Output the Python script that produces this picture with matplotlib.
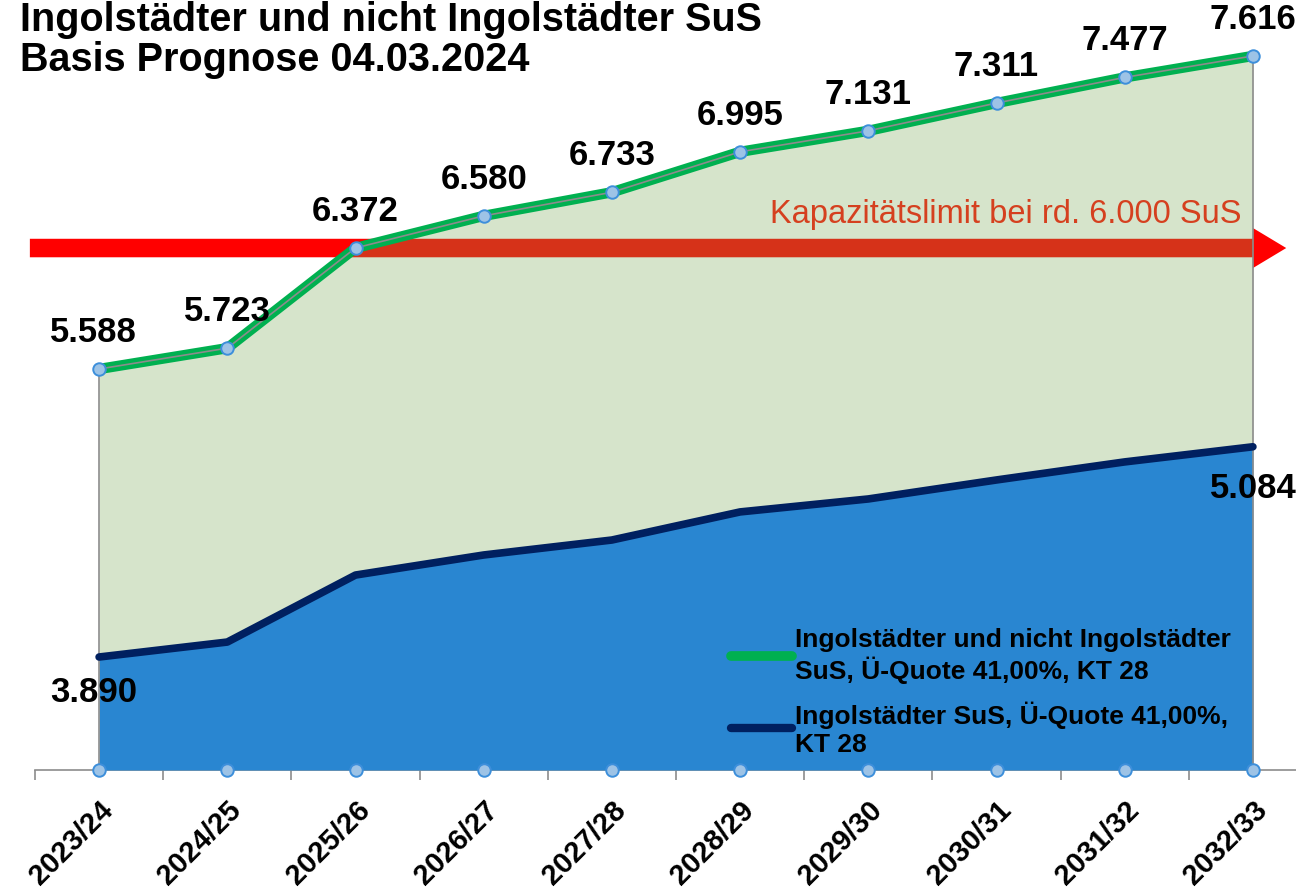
import matplotlib
matplotlib.use("Agg")
import matplotlib.pyplot as plt
from matplotlib.patches import FancyArrow
from matplotlib.lines import Line2D
import numpy as np

# Schuljahre
jahre = ["2023/24", "2024/25", "2025/26", "2026/27", "2027/28",
         "2028/29", "2029/30", "2030/31", "2031/32", "2032/33"]
# Ingolstaedter und nicht Ingolstaedter SuS
gesamt = [5588, 5723, 6372, 6580, 6733, 6995, 7131, 7311, 7477, 7616]
# Ingolstaedter SuS (Lage aus dem Bild gelesen)
ingolstadt = [3722, 3819, 4253, 4383, 4480, 4662, 4746, 4869, 4986, 5084]
# Beschriftungen der blauen Reihe wie im Original
ingolstadt_labels = {0: "3.890", 9: "5.084"}

titel = "Ingolstädter und nicht Ingolstädter SuS\nBasis Prognose 04.03.2024"
limit_text = "Kapazitätslimit bei rd. 6.000 SuS"
leg_gesamt = "Ingolstädter und nicht Ingolstädter\nSuS, Ü-Quote 41,00%, KT 28"
leg_ingol = "Ingolstädter SuS, Ü-Quote 41,00%,\nKT 28"

plt.rcParams['font.family'] = ['Liberation Sans', 'DejaVu Sans']

def de(v):
    return f"{v:,}".replace(",", ".")

x = np.arange(len(jahre))
fig = plt.figure(figsize=(12.96, 8.95), dpi=100)
ax = fig.add_axes([35/1296, 124/895, 1282/1296, 771/895])
ax.set_xlim(-0.5, 9.5)
ax.set_ylim(2990, 7985)

# Pfeil fuer das Kapazitaetslimit (unter der halbtransparenten Flaeche)
pfeil = FancyArrow(-0.004, 0.677, 0.98, 0, width=0.024, head_width=0.052,
                   head_length=0.026, length_includes_head=True,
                   color="#FF0000", lw=0, transform=ax.transAxes, zorder=1,
                   clip_on=False)
ax.add_patch(pfeil)

ax.fill_between(x, 2990, gesamt, color="#78A753", alpha=0.3, lw=0, zorder=2)
ax.fill_between(x, 2990, ingolstadt, color="#2986D1", lw=0, zorder=3)
ax.vlines([x[0], x[-1]], 2990, [gesamt[0], gesamt[-1]], color="#8C8C8C", lw=1.2, zorder=4)

ax.plot(x, gesamt, color="#00B050", lw=7.5, solid_capstyle="butt", zorder=5)
ax.plot(x, gesamt, color="#8C8C8C", lw=1.2, zorder=6)
ax.plot(x, ingolstadt, color="#002060", lw=5.5, solid_capstyle="round", zorder=5)
ax.plot(x, gesamt, ls="none", marker="o", ms=9, mfc="#9DC3E6", mec="#3D8FDB", mew=1.4, zorder=7)
ax.plot(x, [2990] * len(x), ls="none", marker="o", ms=9, mfc="#9DC3E6", mec="#3D8FDB",
        mew=1.4, zorder=7, clip_on=False)

for i, v in enumerate(gesamt):
    ax.annotate(de(v), (x[i], v), xytext=(-4 if i == 0 else 0, 27), textcoords="offset points",
                ha="center", va="center", fontsize=25, fontweight="bold", zorder=8)
for i, t in ingolstadt_labels.items():
    ax.annotate(t, (x[i], ingolstadt[i]), xytext=(-4 if i == 0 else 0, -25 if i == 0 else -29),
                textcoords="offset points", ha="center", va="center",
                fontsize=25, fontweight="bold", zorder=8)

ax.text(0.941, 0.722, limit_text, transform=ax.transAxes, ha="right", va="center",
        fontsize=23.5, color="#D5401F", zorder=8)

# Achsen
for s in ["top", "right", "left"]:
    ax.spines[s].set_visible(False)
ax.spines["bottom"].set_color("#8C8C8C")
ax.spines["bottom"].set_linewidth(1.2)
ax.set_yticks([])
ax.set_xticks(np.arange(-0.5, 10, 1), minor=False)
ax.set_xticklabels([])
ax.tick_params(axis="x", length=7, color="#8C8C8C", width=1.2)
ax.set_xticks(x, minor=True)
ax.set_xticklabels(jahre, minor=True, rotation=45, ha="right", rotation_mode="anchor",
                   fontsize=21, fontweight="bold")
ax.tick_params(axis="x", which="minor", length=0, pad=18)

handles = [Line2D([], [], color="#00B050", lw=7, solid_capstyle="round"),
           Line2D([], [], color="#002060", lw=6, solid_capstyle="round")]
ax.legend(handles, [leg_gesamt, leg_ingol], loc="lower left", bbox_to_anchor=(0.535, 0.005),
          frameon=False, prop={"size": 19, "weight": "bold"}, handlelength=2.3,
          handletextpad=0.12, labelspacing=0.65, borderaxespad=0)

fig.text(20/1296, 1 - 1/895, titel, ha="left", va="top", fontsize=28.5, fontweight="bold",
         linespacing=1.08)

fig.savefig("out.png", dpi=100)
